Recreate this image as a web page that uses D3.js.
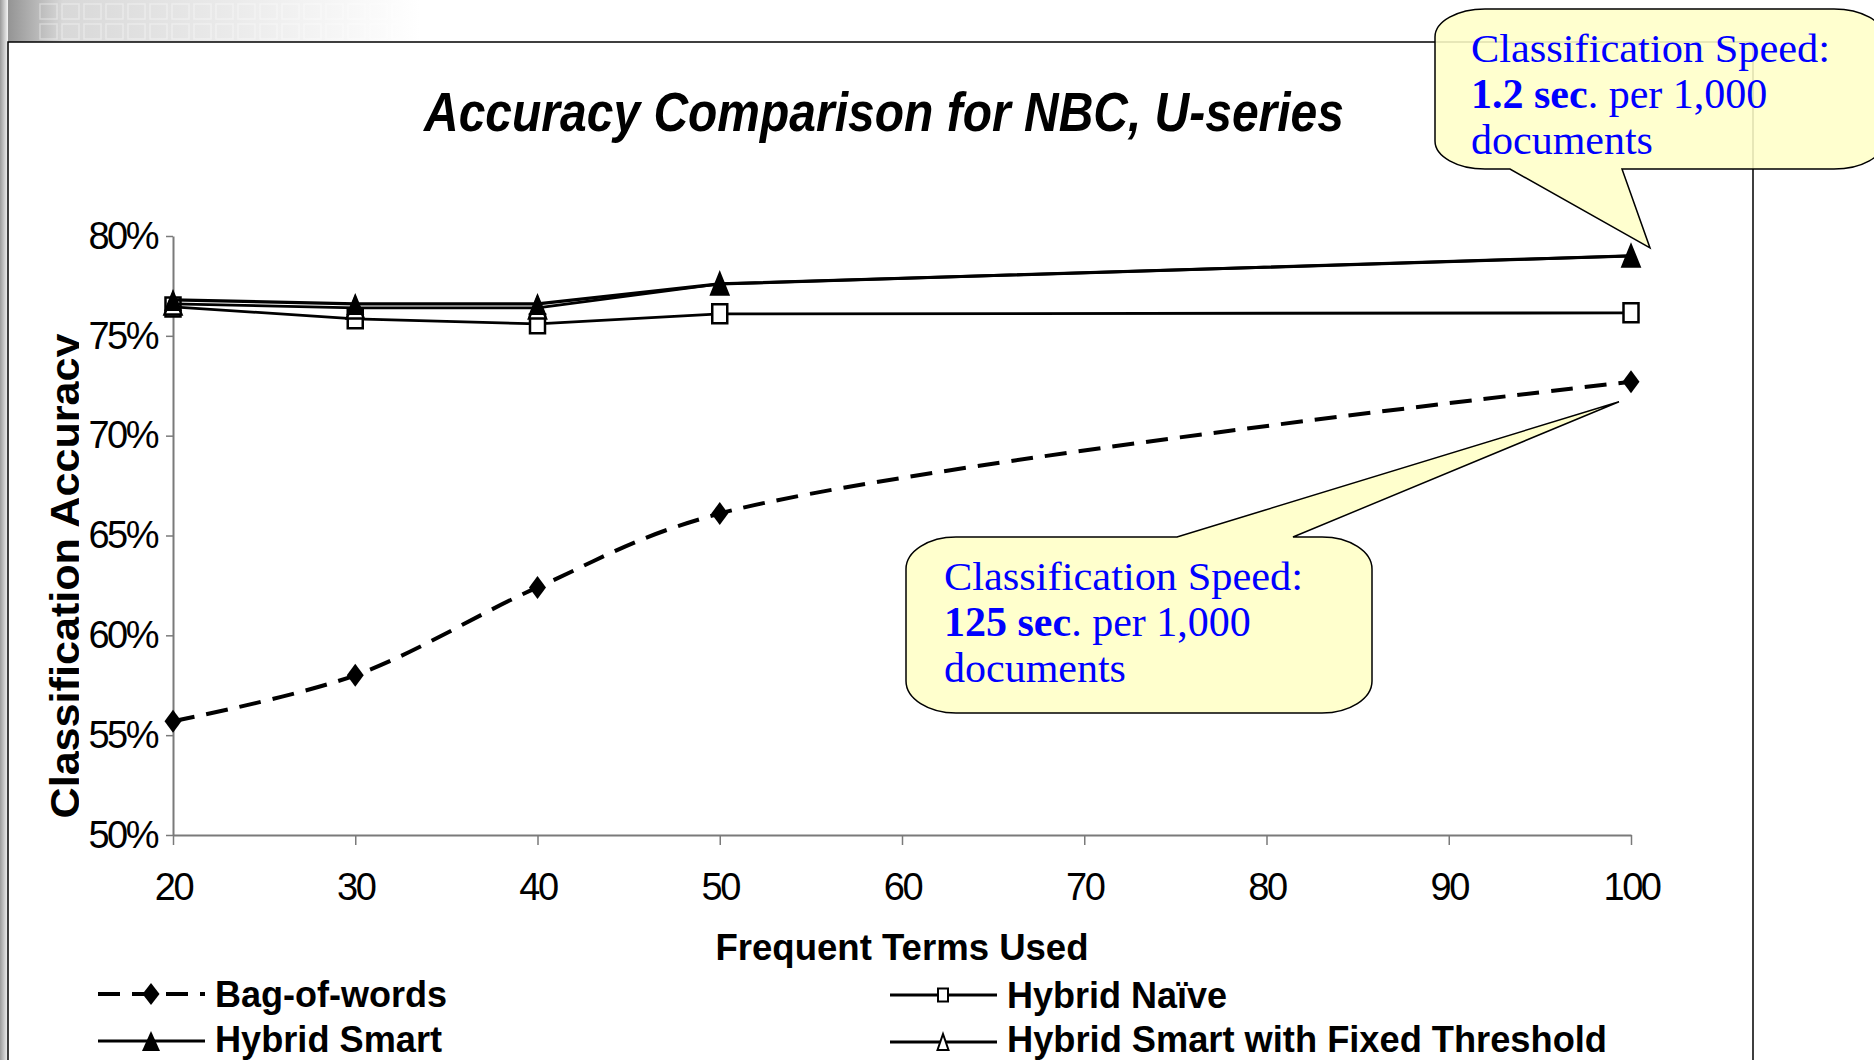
<!DOCTYPE html>
<html><head><meta charset="utf-8">
<script src="https://cdn.jsdelivr.net/npm/d3@7"></script>
<style>html,body{margin:0;padding:0;background:#fff;overflow:hidden}</style>
</head><body><svg id="chart" width="1874" height="1060"></svg>
<script>
// ---------- data ----------
const termsUsed = [20, 30, 40, 50, 100];
const bagOfWords = [0.557, 0.580, 0.624, 0.661, 0.727];
const hybridNaive = [0.7645, 0.7585, 0.756, 0.761, 0.7615];
const hybridSmartFixed = [0.766, 0.764, 0.764, 0.776, 0.790];
const hybridSmart = [0.768, 0.766, 0.766, 0.776, 0.790];
const seriesNames = ["Bag-of-words", "Hybrid Naïve", "Hybrid Smart", "Hybrid Smart with Fixed Threshold"];
const xTicks = [20, 30, 40, 50, 60, 70, 80, 90, 100];
const yTicks = [0.50, 0.55, 0.60, 0.65, 0.70, 0.75, 0.80];
const titleText = "Accuracy Comparison for NBC, U-series";
const xTitle = "Frequent Terms Used";
const yTitle = "Classification Accuracy";
const speedLabel = "Classification Speed:";
const speedFast = ["1.2 sec", ". per 1,000"];
const speedSlow = ["125 sec", ". per 1,000"];
const speedUnit = "documents";

// ---------- setup ----------
const svg = d3.select("#chart");
const defs = svg.append("defs");
const SANS = "'Liberation Sans', Arial, sans-serif";
const SERIF = "'Liberation Serif', 'Times New Roman', serif";

// slide background decoration
const g1 = defs.append("linearGradient").attr("id", "topband").attr("x1", 0).attr("x2", 1).attr("y1", 0).attr("y2", 0);
g1.append("stop").attr("offset", 0).attr("stop-color", "#8a8a8a");
g1.append("stop").attr("offset", 0.15).attr("stop-color", "#d8d8d8");
g1.append("stop").attr("offset", 1).attr("stop-color", "#ffffff");
const g2 = defs.append("linearGradient").attr("id", "leftband").attr("x1", 0).attr("x2", 1).attr("y1", 0).attr("y2", 0);
g2.append("stop").attr("offset", 0).attr("stop-color", "#9a9a9a");
g2.append("stop").attr("offset", 1).attr("stop-color", "#f4f4f4");
svg.append("rect").attr("x", 0).attr("y", 0).attr("width", 420).attr("height", 42).attr("fill", "url(#topband)");
svg.append("rect").attr("x", 0).attr("y", 0).attr("width", 8).attr("height", 1060).attr("fill", "url(#leftband)");
const sq = svg.append("g").attr("fill", "none").attr("stroke", "#ffffff").attr("stroke-opacity", 0.35).attr("stroke-width", 1.5);
for (let r = 0; r < 2; r++) for (let c = 0; c < 18; c++) {
  sq.append("rect").attr("x", 40 + c * 22).attr("y", 4 + r * 20).attr("width", 17).attr("height", 15);
}

// chart frame
svg.append("path").attr("d", "M8,1062 V42 H1753 V1062").attr("fill", "none").attr("stroke", "#000").attr("stroke-width", 1.5);

// ---------- scales ----------
const x = d3.scaleLinear().domain([20, 100]).range([173, 1631]);
const y = d3.scaleLinear().domain([0.5, 0.8]).range([835, 236]);

// title
svg.append("text").attr("x", 424).attr("y", 131).text(titleText)
  .attr("font-family", SANS).attr("font-weight", "bold").attr("font-style", "italic")
  .attr("font-size", 56).attr("textLength", 920).attr("lengthAdjust", "spacingAndGlyphs");

// axes
const yAxis = svg.append("g").attr("transform", "translate(173,0)")
  .call(d3.axisLeft(y).tickValues(yTicks).tickFormat(d3.format(".0%")).tickSize(7).tickSizeOuter(0).tickPadding(9));
const xAxis = svg.append("g").attr("transform", "translate(0,835)")
  .call(d3.axisBottom(x).tickValues(xTicks).tickFormat(d3.format("d")).tickSize(10).tickSizeOuter(0).tickPadding(28));
[yAxis, xAxis].forEach(a => {
  a.select(".domain").attr("stroke", "#7a7a7a").attr("stroke-width", 2);
  a.selectAll(".tick line").attr("stroke", "#7a7a7a").attr("stroke-width", 1.5);
  a.selectAll("text").attr("font-family", SANS).attr("font-size", 38).attr("fill", "#000")
    .attr("letter-spacing", -2.5);
});

// axis titles
svg.append("text").attr("x", 902).attr("y", 960).attr("text-anchor", "middle").text(xTitle)
  .attr("font-family", SANS).attr("font-weight", "bold").attr("font-size", 36)
  .attr("textLength", 373).attr("lengthAdjust", "spacingAndGlyphs");
defs.append("clipPath").attr("id", "ytclip").append("rect").attr("x", 0).attr("y", 0).attr("width", 79).attr("height", 1060);
svg.append("g").attr("clip-path", "url(#ytclip)").append("text")
  .attr("transform", "translate(79,576) rotate(-90)").attr("text-anchor", "middle").text(yTitle)
  .attr("font-family", SANS).attr("font-weight", "bold").attr("font-size", 40)
  .attr("textLength", 485).attr("lengthAdjust", "spacingAndGlyphs");

// ---------- markers ----------
function diamond(w, h) { return `M0,${-h/2}L${w/2},0L0,${h/2}L${-w/2},0Z`; }
function triangle(w, h) { return `M0,${-h/2}L${w/2},${h/2}L${-w/2},${h/2}Z`; }
function square(w, h) { return `M${-w/2},${-h/2}H${w/2}V${h/2}H${-w/2}Z`; }

const series = [
  { name: seriesNames[0], values: bagOfWords, dash: "22,12", width: 4, curve: d3.curveCatmullRom.alpha(0.5),
    marker: diamond, mw: 17, mh: 23, fill: "#000", stroke: "none", lw: 17, lh: 22 },
  { name: seriesNames[1], values: hybridNaive, dash: null, width: 2.8, curve: d3.curveLinear,
    marker: square, mw: 15, mh: 19, fill: "#fff", stroke: "#000", lw: 10, lh: 13 },
  { name: seriesNames[3], values: hybridSmartFixed, dash: null, width: 2.8, curve: d3.curveLinear,
    marker: triangle, mw: 17, mh: 21, fill: "#fff", stroke: "#000", lw: 11, lh: 16 },
  { name: seriesNames[2], values: hybridSmart, dash: null, width: 3.2, curve: d3.curveLinear,
    marker: triangle, mw: 18, mh: 22, fill: "#000", stroke: "none", lw: 18, lh: 20 }
];

series.forEach(s => {
  const pts = termsUsed.map((t, i) => [t, s.values[i]]);
  const line = d3.line().x(d => x(d[0])).y(d => y(d[1])).curve(s.curve);
  svg.append("path").attr("d", line(pts)).attr("fill", "none").attr("stroke", "#000")
    .attr("stroke-width", s.width).attr("stroke-dasharray", s.dash).attr("stroke-linejoin", "round");
  svg.append("g").selectAll("path").data(pts).join("path")
    .attr("transform", d => `translate(${x(d[0])},${y(d[1])})`)
    .attr("d", s.marker(s.mw, s.mh)).attr("fill", s.fill).attr("stroke", s.stroke).attr("stroke-width", 2.5);
});

// ---------- legend ----------
const legendPos = {
  [seriesNames[0]]: [98, 994, 1007, 232],
  [seriesNames[1]]: [890, 995, 1008, 220],
  [seriesNames[2]]: [98, 1041, 1052, 227],
  [seriesNames[3]]: [890, 1042, 1052, 600]
};
series.forEach(s => {
  const [lx, ly, by, tw] = legendPos[s.name];
  const lg = svg.append("g");
  lg.append("line").attr("x1", lx).attr("x2", lx + 107).attr("y1", ly).attr("y2", ly)
    .attr("stroke", "#000").attr("stroke-width", s.width).attr("stroke-dasharray", s.dash ? "22,12" : null);
  lg.append("path").attr("transform", `translate(${lx + 53},${ly})`).attr("d", s.marker(s.lw, s.lh))
    .attr("fill", s.fill).attr("stroke", s.stroke).attr("stroke-width", 2);
  lg.append("text").attr("x", lx + 117).attr("y", by).text(s.name)
    .attr("font-family", SANS).attr("font-weight", "bold").attr("font-size", 36)
    .attr("textLength", tw).attr("lengthAdjust", "spacingAndGlyphs");
});

// ---------- callouts ----------
function callout(x0, y0, x1, y1, rx, ry, side, pa, pb, tip) {
  let d = `M${x0 + rx},${y0}`;
  if (side === "top") d += `H${pa}L${tip[0]},${tip[1]}L${pb},${y0}`;
  d += `H${x1 - rx}A${rx},${ry} 0 0 1 ${x1},${y0 + ry}V${y1 - ry}A${rx},${ry} 0 0 1 ${x1 - rx},${y1}`;
  if (side === "bottom") d += `H${pb}L${tip[0]},${tip[1]}L${pa},${y1}`;
  d += `H${x0 + rx}A${rx},${ry} 0 0 1 ${x0},${y1 - ry}V${y0 + ry}A${rx},${ry} 0 0 1 ${x0 + rx},${y0}Z`;
  return d;
}
function calloutText(tx, ty, boldPart) {
  const fs = 40;
  svg.append("text").attr("x", tx).attr("y", ty).text(speedLabel)
    .attr("font-family", SERIF).attr("font-size", fs).attr("fill", "#0000ff")
    .attr("textLength", 359).attr("lengthAdjust", "spacingAndGlyphs");
  const t2 = svg.append("text").attr("x", tx).attr("y", ty + 46)
    .attr("font-family", SERIF).attr("font-size", fs).attr("fill", "#0000ff");
  t2.append("tspan").attr("font-weight", "bold").attr("font-size", fs + 2).text(boldPart[0]);
  t2.append("tspan").attr("font-size", fs + 2).text(boldPart[1]);
  svg.append("text").attr("x", tx).attr("y", ty + 92).text(speedUnit)
    .attr("font-family", SERIF).attr("font-size", fs + 2).attr("fill", "#0000ff");
}
// fast (top-right) callout, pointing at the Hybrid Smart endpoint
const tipFast = [x(100) + 19, y(hybridSmart[4]) - 8];
svg.append("path").attr("d", callout(1435, 9, 1884, 169, 50, 28, "bottom", 1510, 1622, tipFast))
  .attr("fill", "#ffffc8").attr("fill-opacity", 0.88).attr("stroke", "#000").attr("stroke-width", 1.5);
calloutText(1471, 62, speedFast);
// slow callout, pointing at the Bag-of-words endpoint
const tipSlow = [x(100) - 12, y(bagOfWords[4]) + 20];
svg.append("path").attr("d", callout(906, 537, 1372, 713, 50, 32, "top", 1177, 1293, tipSlow))
  .attr("fill", "#ffffc8").attr("fill-opacity", 0.9).attr("stroke", "#000").attr("stroke-width", 1.5);
calloutText(944, 590, speedSlow);
</script></body></html>
